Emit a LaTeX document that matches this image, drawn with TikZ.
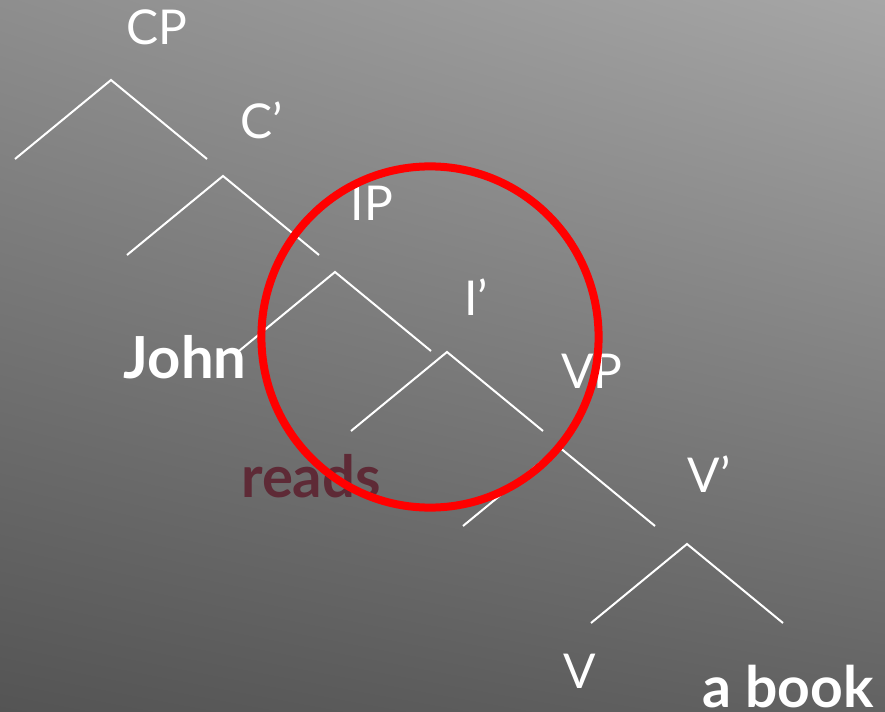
\documentclass[tikz,border=0pt]{standalone}
\usepackage{fontspec}
\setmainfont{Lato}
\usetikzlibrary{shadings}

\definecolor{bgul}{RGB}{142,142,142}
\definecolor{bgur}{RGB}{166,166,166}
\definecolor{bgll}{RGB}{84,84,84}
\definecolor{bglr}{RGB}{98,98,98}
\definecolor{readscol}{RGB}{94,42,54}
\definecolor{ringred}{RGB}{255,0,0}

\begin{document}
\begin{tikzpicture}[x = 0.5pt, y = -0.5pt,
    branch/.style = {draw=white, line width=1pt},
    cat/.style = {text=white, anchor=base, inner sep=0pt, font=\fontsize{24}{28}\selectfont},
    word/.style = {anchor=base, inner sep=0pt, font=\fontsize{29}{33}\selectfont\bfseries}]
    \useasboundingbox (0, 0) rectangle (885, 712);
    \shade[upper left=bgul, upper right=bgur, lower left=bgll, lower right=bglr]
    (0, 0) rectangle (885, 712);

    % tree: apex and the two ends of every branching
    \foreach \n/\x/\y in {cp/111/80, cbar/223/176, ip/335/272, ibar/447/352, vp/559/447, vbar/687/544} {
        \coordinate (\n) at (\x, \y);
        \coordinate (\n-l) at (\x - 96, \y + 79);
        \coordinate (\n-r) at (\x + 96, \y + 79);
        \draw[branch] (\n-l) -- (\n) -- (\n-r);
    }

    \node[cat] (cplab) at (157, 45) {CP};
    \node[cat] (cbarlab) at (262, 138) {C’};
    \node[cat] (iplab) at (372, 220) {IP};
    \node[cat] (ibarlab) at (476, 315) {I’};
    \node[cat] (vplab) at (592, 388) {VP};
    \node[cat] (vbarlab) at (709, 492) {V’};
    \node[cat] (vlab) at (580, 688) {V};

    \node[word, text=white] (john) at (185, 378) {John};
    \node[word, text=readscol] (reads) at (311, 497) {reads};
    \node[word, text=white, font=\fontsize{28.5}{33}\selectfont\bfseries] (book) at (788, 707) {a book};

    % the ring round IP
    \draw[ringred, line width=4pt] (430, 337) ellipse [x radius=84.3pt, y radius=85.3pt];
\end{tikzpicture}
\end{document}
